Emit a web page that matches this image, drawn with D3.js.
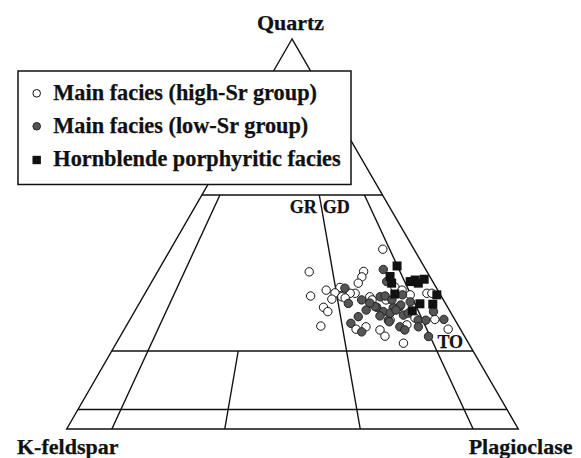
<!DOCTYPE html>
<html>
<head>
<meta charset="utf-8">
<script src="https://cdn.jsdelivr.net/npm/d3@7"></script>
<style>
  html, body { margin: 0; padding: 0; background: #fff; }
  svg text { font-family: "Liberation Serif", "Times New Roman", serif; font-weight: bold; fill: #111; stroke: #111; stroke-width: 0.25px; }
</style>
</head>
<body>
<svg id="chart" width="581" height="458"></svg>
<script>
// ---- Data: compositions [Q, A, P] in percent ----
const vertexLabels = ["Quartz", "K-feldspar", "Plagioclase"];
const legendLabels = ["Main facies (high-Sr group)", "Main facies (low-Sr group)", "Hornblende porphyritic facies"];
const fieldLabels = ["GR", "GD", "TO"];

// horizontal Q boundaries (Q %)
const qLevels = [90, 60, 20, 5];
// ratio boundaries P/(A+P) in %, and their upper Q limit
const ratioValues = [10, 35, 65, 90];
const ratioQmax = [60, 20, 60, 60];

const highSr = [
  [46.1, 6.9, 47.0], [40.3, 26.1, 33.6], [40.4, 14.0, 45.6], [39.0, 15.1, 45.9],
  [37.4, 16.7, 45.9], [35.6, 24.7, 39.7], [34.1, 28.9, 37.0], [36.3, 21.3, 42.4],
  [34.9, 23.1, 42.0], [33.3, 24.6, 42.1], [33.9, 22.1, 44.0], [34.8, 18.7, 46.5],
  [34.8, 19.8, 45.4], [33.9, 15.9, 50.2], [31.2, 27.5, 41.3], [30.1, 27.1, 42.8],
  [26.4, 30.5, 43.1], [25.6, 23.1, 51.3], [26.2, 20.6, 53.2], [25.4, 17.9, 56.7],
  [23.8, 17.6, 58.6], [22.0, 14.4, 63.6], [34.8, 2.8, 62.4], [34.8, 1.7, 63.5],
  [25.6, 2.7, 71.7], [28.1, 4.4, 67.5], [27.9, 14.4, 57.7], [34.4, 6.7, 58.9],
  [26.7, 11.3, 62.0], [33.1, 15.8, 51.1], [36.4, 9.1, 54.5], [28.5, 8.6, 62.9],
  [33.6, 21.5, 44.9], [33.1, 12.7, 54.2], [35.6, 7.9, 56.5]
];

const lowSr = [
  [40.9, 9.4, 49.7], [36.1, 20.3, 43.6], [32.2, 21.5, 46.3], [33.1, 18.1, 48.8],
  [28.8, 21.0, 50.2], [27.1, 23.5, 49.4], [24.9, 22.2, 52.9], [31.2, 15.7, 53.1],
  [33.9, 13.6, 52.5], [37.8, 10.2, 52.0], [34.1, 12.4, 53.5], [30.1, 14.8, 55.1],
  [27.9, 14.8, 57.3], [30.9, 11.8, 57.3], [31.4, 10.5, 58.1], [29.2, 10.8, 60.0],
  [26.2, 13.1, 60.7], [25.4, 12.4, 62.2], [32.6, 7.6, 59.8], [29.7, 9.5, 60.8],
  [27.9, 8.2, 63.9], [26.2, 9.0, 64.8], [27.9, 6.5, 65.6], [30.1, 3.7, 66.2],
  [28.1, 2.4, 69.5], [23.7, 8.0, 68.3], [34.4, 8.4, 57.2], [31.8, 10.1, 58.1],
  [31.1, 12.1, 56.8], [31.4, 16.0, 52.6], [29.7, 13.5, 56.8], [30.5, 11.8, 57.7],
  [27.5, 14.8, 57.7], [32.3, 16.7, 51.0], [30.5, 18.4, 51.1], [29.0, 16.1, 54.9],
  [33.1, 11.4, 55.5]
];

const hornblende = [
  [41.8, 5.9, 52.3], [39.1, 8.8, 52.1], [37.4, 9.3, 53.3], [37.8, 5.0, 57.2],
  [38.2, 3.7, 58.1], [38.4, 1.6, 60.0], [34.6, 10.0, 55.4], [34.4, 0.8, 64.8],
  [32.1, 5.7, 62.2], [32.0, 2.9, 65.1], [30.3, 8.3, 61.4], [37.4, 3.4, 59.2]
];

// ---- Layout ----
const svg = d3.select("#chart");
const apexX = 292, leftX = 66.7, rightX = 518.3, baseY = 429, topY = 39;

const yScale = d3.scaleLinear().domain([0, 100]).range([baseY, topY]);
const xBase = d3.scaleLinear().domain([0, 100]).range([leftX, rightX]);
const qShift = d3.scaleLinear().domain([0, 100]).range([0, apexX - leftX]);

function project(c) {
  const s = c[0] + c[1] + c[2];
  const q = c[0] / s * 100, p = c[2] / s * 100;
  return [xBase(p) + qShift(q), yScale(q)];
}
function fromQR(q, r) { // q = Q%, r = P/(A+P)%
  const p = (100 - q) * r / 100;
  return project([q, 100 - q - p, p]);
}

const lineColor = "#111";
const gLines = svg.append("g").attr("fill", "none").attr("stroke", lineColor).attr("stroke-width", 1.4);

// triangle
gLines.append("path")
  .attr("d", d3.line()([project([100, 0, 0]), project([0, 100, 0]), project([0, 0, 100])]) + "Z")
  .attr("stroke-linejoin", "miter");

// horizontal Q lines
qLevels.forEach(q => {
  gLines.append("line")
    .attr("x1", fromQR(q, 0)[0]).attr("y1", fromQR(q, 0)[1])
    .attr("x2", fromQR(q, 100)[0]).attr("y2", fromQR(q, 100)[1]);
});
// ratio lines
ratioValues.forEach((r, i) => {
  const a = fromQR(0, r), b = fromQR(ratioQmax[i], r);
  gLines.append("line").attr("x1", a[0]).attr("y1", a[1]).attr("x2", b[0]).attr("y2", b[1]);
});

// field labels
const grPos = fromQR(60, 65);
svg.append("text").attr("x", grPos[0] - 2.5).attr("y", grPos[1] + 17.5)
  .attr("text-anchor", "end").attr("font-size", 18).text(fieldLabels[0]);
svg.append("text").attr("x", grPos[0] + 3.5).attr("y", grPos[1] + 17.5)
  .attr("text-anchor", "start").attr("font-size", 18).text(fieldLabels[1]);
const toPos = fromQR(20, 90);
svg.append("text").attr("x", toPos[0] + 0.5).attr("y", toPos[1] - 3.5)
  .attr("text-anchor", "start").attr("font-size", 18).text(fieldLabels[2]);

// data points
const gPts = svg.append("g");
gPts.selectAll("circle.hi").data(highSr).join("circle").attr("class", "hi")
  .attr("cx", d => project(d)[0]).attr("cy", d => project(d)[1]).attr("r", 4.2)
  .attr("fill", "#fff").attr("stroke", "#111").attr("stroke-width", 1);
gPts.selectAll("circle.lo").data(lowSr).join("circle").attr("class", "lo")
  .attr("cx", d => project(d)[0]).attr("cy", d => project(d)[1]).attr("r", 4.2)
  .attr("fill", "#555").attr("stroke", "#222").attr("stroke-width", 1);
const sq = 9;
gPts.selectAll("rect.hb").data(hornblende).join("rect").attr("class", "hb")
  .attr("x", d => project(d)[0] - sq / 2).attr("y", d => project(d)[1] - sq / 2)
  .attr("width", sq).attr("height", sq).attr("fill", "#111");

// vertex labels
svg.append("text").attr("x", 290.5).attr("y", 29.5).attr("text-anchor", "middle")
  .attr("font-size", 22).text(vertexLabels[0]);
svg.append("text").attr("x", 17).attr("y", 454).attr("text-anchor", "start")
  .attr("font-size", 22).text(vertexLabels[1]);
svg.append("text").attr("x", 572.5).attr("y", 454).attr("text-anchor", "end")
  .attr("font-size", 22).text(vertexLabels[2]);

// legend
const lg = svg.append("g");
lg.append("rect").attr("x", 18).attr("y", 71).attr("width", 333).attr("height", 113.5)
  .attr("fill", "#fff").attr("stroke", "#111").attr("stroke-width", 1.5);
const rowY = [100, 132.8, 166.2];
lg.append("circle").attr("cx", 36.7).attr("cy", rowY[0] - 6.7).attr("r", 3.8)
  .attr("fill", "#fff").attr("stroke", "#111").attr("stroke-width", 1);
lg.append("circle").attr("cx", 36.7).attr("cy", rowY[1] - 6.5).attr("r", 3.8)
  .attr("fill", "#555").attr("stroke", "#222").attr("stroke-width", 1);
lg.append("rect").attr("x", 36.7 - 4.2).attr("y", rowY[2] - 6.2 - 4.2).attr("width", 8.4).attr("height", 8.4)
  .attr("fill", "#111");
legendLabels.forEach((t, i) => {
  lg.append("text").attr("x", 53.3).attr("y", rowY[i]).attr("font-size", 22.3).text(t);
});
</script>
</body>
</html>
